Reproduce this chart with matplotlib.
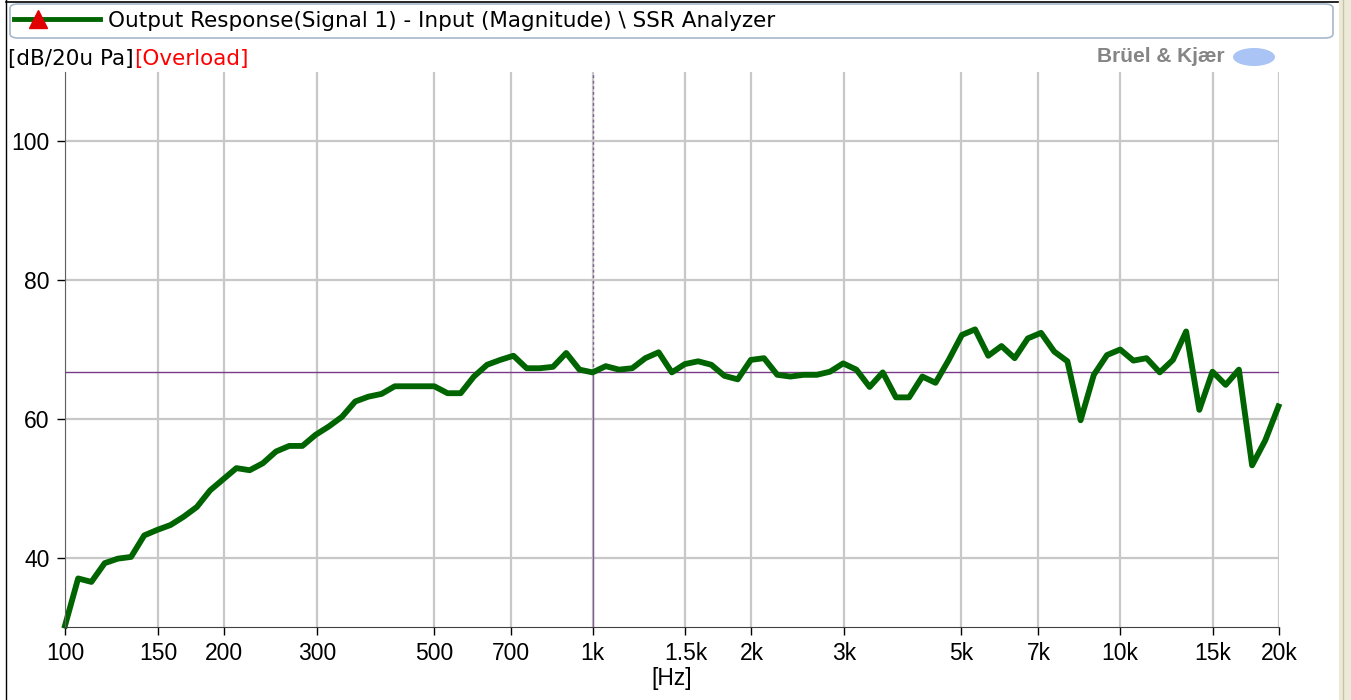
import numpy as np
import matplotlib
matplotlib.use('Agg')
import matplotlib.pyplot as plt
from matplotlib.patches import FancyBboxPatch, Ellipse, Rectangle
from matplotlib.lines import Line2D

# 1/12 octave (base 10) frequencies, 100 Hz .. 20 kHz
freq = [100, 105.9, 112.2, 118.9, 125.9, 133.4, 141.3, 149.6, 158.5, 167.9,
        177.8, 188.4, 199.5, 211.3, 223.9, 237.1, 251.2, 266.1, 281.8, 298.5,
        316.2, 335.0, 354.8, 375.8, 398.1, 421.7, 446.7, 473.2, 501.2, 530.9,
        562.3, 595.7, 631.0, 668.3, 707.9, 749.9, 794.3, 841.4, 891.3, 944.1,
        1000, 1059, 1122, 1189, 1259, 1334, 1413, 1496, 1585, 1679,
        1778, 1884, 1995, 2113, 2239, 2371, 2512, 2661, 2818, 2985,
        3162, 3350, 3548, 3758, 3981, 4217, 4467, 4732, 5012, 5309,
        5623, 5957, 6310, 6683, 7079, 7499, 7943, 8414, 8913, 9441,
        10000, 10593, 11220, 11885, 12589, 13335, 14125, 14962, 15849, 16788,
        17783, 18836, 19953]

level_db = [30.2, 37.0, 36.5, 39.2, 39.85, 40.1, 43.2, 44.0, 44.7, 45.9,
            47.3, 49.7, 51.3, 52.9, 52.6, 53.6, 55.3, 56.1, 56.1, 57.7,
            58.9, 60.3, 62.5, 63.2, 63.6, 64.7, 64.7, 64.7, 64.7, 63.7,
            63.7, 66.1, 67.8, 68.5, 69.1, 67.3, 67.3, 67.5, 69.5, 67.1,
            66.7, 67.6, 67.1, 67.3, 68.75, 69.6, 66.7, 67.9, 68.3, 67.8,
            66.2, 65.7, 68.5, 68.75, 66.35, 66.1, 66.35, 66.35, 66.8, 68.0,
            67.1, 64.6, 66.7, 63.1, 63.1, 66.1, 65.2, 68.5, 72.1, 72.9,
            69.1, 70.5, 68.75, 71.6, 72.4, 69.7, 68.3, 59.8, 66.35, 69.2,
            70.0, 68.4, 68.75, 66.7, 68.5, 72.6, 61.3, 66.8, 64.9, 67.1,
            53.3, 56.9, 61.8]

cursor_freq = 1000
cursor_db = 66.7

xticks = [100, 150, 200, 300, 500, 700, 1000, 1500, 2000, 3000, 5000, 7000, 10000, 15000, 20000]
xticklabels = ['100', '150', '200', '300', '500', '700', '1k', '1.5k', '2k', '3k', '5k', '7k', '10k', '15k', '20k']
yticks = [40, 60, 80, 100]

plt.rcParams['font.family'] = ['Liberation Sans', 'DejaVu Sans']
FS = 16.5          # tick labels
TXT = ['DejaVu Sans']  # header texts
FS_TXT = 15.5

W, H = 1351, 700
fig = plt.figure(figsize=(W / 100, H / 100), dpi=100)
ax = fig.add_axes([65 / W, 1 - 627 / H, (1279 - 65) / W, (627 - 72) / H])

ax.set_xscale('log')
ax.set_xlim(100, 20000)
ax.set_ylim(30, 110)
ax.set_xticks(xticks)
ax.set_xticklabels(xticklabels)
ax.xaxis.set_minor_locator(matplotlib.ticker.NullLocator())
ax.set_yticks(yticks)
ax.grid(True, color='#c8c8c8', linewidth=1.6)
ax.set_axisbelow(True)
for s in ['top', 'right']:
    ax.spines[s].set_visible(False)
ax.spines['left'].set_color('#606060')
ax.spines['bottom'].set_color('#404040')
ax.tick_params(axis='both', length=6, width=1, labelsize=FS, pad=5, colors='#000000')
ax.set_xlabel('[Hz]', fontsize=FS, labelpad=1)

# cursor lines
ax.axhline(cursor_db, color='#7a3a8a', linewidth=1)
ax.plot([cursor_freq, cursor_freq], [30, cursor_db], color='#806090', linewidth=1)
ax.plot([cursor_freq, cursor_freq], [cursor_db, 110], color='#806090', linewidth=1, linestyle=(0, (2, 2)))

ax.plot(freq, level_db, color='#006400', linewidth=4.2, solid_joinstyle='round', clip_on=False)

# legend bar at top
fig.patches.append(FancyBboxPatch((10 / W, 1 - 38 / H), 1323 / W, 34 / H,
                                  boxstyle='round,pad=0,rounding_size=0.006',
                                  transform=fig.transFigure, facecolor='white',
                                  edgecolor='#a8b8cc', linewidth=1.2))
fig.lines.append(Line2D([14 / W, 100 / W], [1 - 19 / H, 1 - 19 / H], transform=fig.transFigure,
                        color='#006400', linewidth=3.5))
fig.lines.append(Line2D([38 / W], [1 - 19 / H], transform=fig.transFigure, marker='^',
                        markersize=13, color='#e00000', linestyle='none'))
fig.text(108 / W, 1 - 21 / H, 'Output Response(Signal 1) - Input (Magnitude) \\ SSR Analyzer',
         fontsize=FS_TXT, family=TXT, va='center', ha='left')

t = fig.text(8 / W, 1 - 59 / H, '[dB/20u Pa]', fontsize=FS_TXT, family=TXT, va='center', ha='left')
fig.canvas.draw()
bb = t.get_window_extent()
fig.text((bb.x1 + 1) / W, 1 - 59 / H, '[Overload]', fontsize=FS_TXT, family=TXT,
         va='center', ha='left', color='#ff0000')

# logo
fig.text(1225 / W, 1 - 57 / H, 'Brüel & Kjær', fontsize=15, fontweight='bold', color='#858585',
         va='center', ha='right')
fig.patches.append(Ellipse((1254 / W, 1 - 57 / H), 42 / W, 18 / H, transform=fig.transFigure,
                           facecolor='#a9c4f5', edgecolor='none'))

# window frame bits
fig.lines.append(Line2D([6 / W, 6 / W], [0, 1], transform=fig.transFigure, color='black', linewidth=1))
fig.lines.append(Line2D([6 / W, 1338 / W], [1 - 2 / H, 1 - 2 / H], transform=fig.transFigure,
                        color='black', linewidth=1.2))
fig.patches.append(Rectangle((1339 / W, 0), 12 / W, 1, transform=fig.transFigure,
                             facecolor='#ece9d8', edgecolor='none'))
fig.lines.append(Line2D([1343 / W, 1343 / W], [0, 1], transform=fig.transFigure, color='#c8c2a8', linewidth=1))

fig.savefig('out.png', dpi=100)
